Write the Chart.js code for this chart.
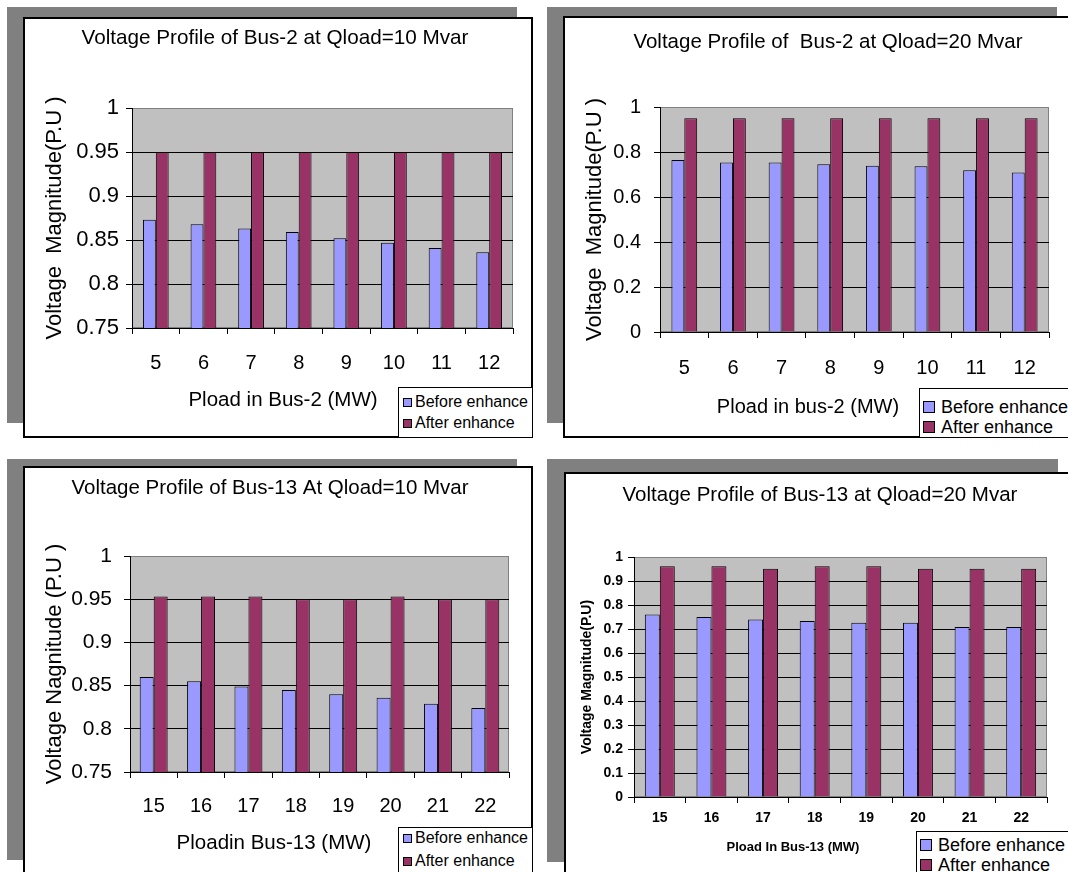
<!DOCTYPE html>
<html>
<head>
<meta charset="utf-8">
<script src="https://cdn.jsdelivr.net/npm/chart.js@4.4.1/dist/chart.umd.min.js"></script>
<style>
  body { margin: 0; background: #fff; width: 1068px; height: 872px; overflow: hidden; position: relative; font-family: "Liberation Sans", Arial, sans-serif; }
  .shadow { position: absolute; background: #808080; }
  .box { position: absolute; background: #fff; border: 2px solid #000; box-sizing: border-box; }
  canvas { position: absolute; }
  .legend { position: absolute; background: #fff; border: 1px solid #000; box-sizing: border-box; color: #000; white-space: nowrap; }
  .legend .row { position: absolute; display: flex; align-items: center; }
  .legend .sw { display: inline-block; border: 1px solid #000; box-sizing: border-box; }
</style>
</head>
<body>
<script>
const loadsBus2 = ['5', '6', '7', '8', '9', '10', '11', '12'];
const loadsBus13 = ['15', '16', '17', '18', '19', '20', '21', '22'];
const seriesNames = ['Before enhance', 'After enhance'];
const seriesColors = ['#9999FF', '#993366'];

const bus2Q10Before = [0.873, 0.868, 0.863, 0.859, 0.852, 0.847, 0.841, 0.836];
const bus2Q10After = [0.95, 0.95, 0.95, 0.95, 0.95, 0.95, 0.95, 0.95];
const bus2Q20Before = [0.764, 0.753, 0.753, 0.746, 0.739, 0.737, 0.719, 0.709];
const bus2Q20After = [0.95, 0.95, 0.95, 0.95, 0.95, 0.95, 0.95, 0.95];
const bus13Q10Before = [0.860, 0.855, 0.849, 0.845, 0.840, 0.836, 0.829, 0.824];
const bus13Q10After = [0.953, 0.953, 0.953, 0.95, 0.95, 0.953, 0.95, 0.95];
const bus13Q20Before = [0.760, 0.750, 0.740, 0.733, 0.726, 0.726, 0.708, 0.708];
const bus13Q20After = [0.961, 0.961, 0.951, 0.961, 0.961, 0.951, 0.951, 0.951];

Chart.defaults.font.family = '"Liberation Sans", Arial, sans-serif';
Chart.defaults.color = '#000';

// grey plot area like the old Excel charts
const plotBg = {
  id: 'plotBg',
  beforeDraw(chart) {
    const { ctx, chartArea: a } = chart;
    ctx.save();
    ctx.fillStyle = '#C0C0C0';
    ctx.fillRect(a.left, a.top, a.right - a.left, a.bottom - a.top);
    ctx.strokeStyle = '#808080';
    ctx.lineWidth = 1;
    ctx.strokeRect(a.left + 0.5, a.top + 0.5, a.right - a.left - 1, a.bottom - a.top - 1);
    ctx.restore();
  }
};

// x axis caption, sits left of the legend box
const axisCaption = {
  id: 'axisCaption',
  afterDraw(chart, args, opts) {
    const ctx = chart.ctx;
    ctx.save();
    ctx.font = opts.font;
    ctx.fillStyle = '#000';
    ctx.textAlign = 'center';
    ctx.textBaseline = 'middle';
    ctx.fillText(opts.text, opts.x, opts.y);
    ctx.restore();
  }
};

function addDiv(cls, x, y, w, h) {
  const d = document.createElement('div');
  d.className = cls;
  Object.assign(d.style, { left: x + 'px', top: y + 'px', width: w + 'px', height: h + 'px' });
  document.body.appendChild(d);
  return d;
}

function makePanel(p) {
  const [bx, by, bw, bh] = p.box;
  addDiv('shadow', p.shadow[0], p.shadow[1], p.shadow[2], p.shadow[3]);
  addDiv('box', bx, by, bw, bh);

  const cv = document.createElement('canvas');
  cv.width = bw; cv.height = bh;
  Object.assign(cv.style, { left: bx + 'px', top: by + 'px', width: bw + 'px', height: bh + 'px' });
  document.body.appendChild(cv);

  // plot area in canvas coords, title centred between the paddings
  const left = p.plot[0] - bx, right = p.plot[1] - bx, top = p.plot[2] - by, bottom = p.plot[3] - by;
  const tc = p.titleX - bx;
  const padL = tc > bw / 2 ? 2 * tc - bw : 0;
  const padR = tc < bw / 2 ? bw - 2 * tc : 0;
  const titleY = p.titleY - by;
  const tFont = p.titleSize;

  const chart = new Chart(cv, {
    type: 'bar',
    data: {
      labels: p.labels,
      datasets: p.series.map((d, i) => ({
        label: seriesNames[i],
        data: d,
        backgroundColor: seriesColors[i],
        borderColor: '#000',
        borderWidth: 1,
        categoryPercentage: p.cat,
        barPercentage: 1
      }))
    },
    options: {
      responsive: false,
      animation: false,
      layout: { padding: { left: padL, top: 0, bottom: 0, right: padR } },
      plugins: {
        legend: { display: false },
        tooltip: { enabled: false },
        title: {
          display: true, text: p.title, color: '#000',
          font: { size: tFont, weight: 'normal', lineHeight: 1.2 },
          padding: { top: titleY - tFont * 0.6, bottom: top - titleY - tFont * 0.6 }
        },
        axisCaption: { text: p.xTitle, x: p.xTitlePos[0] - bx, y: p.xTitlePos[1] - by, font: p.xTitleFont }
      },
      scales: {
        x: {
          grid: { drawOnChartArea: false, color: '#000', tickLength: 6 },
          border: { color: '#000' },
          ticks: { color: '#000', font: p.xTickFont, padding: p.xPad, maxRotation: 0, autoSkip: false },
          afterFit: s => { s.height = bh - bottom; }
        },
        y: {
          min: p.yMin, max: p.yMax,
          ticks: { stepSize: p.step, color: '#000', font: p.yTickFont, padding: p.yPad, callback: v => String(+v.toFixed(2)) },
          grid: {
            color: c => (c.tick && c.tick.value > p.yMax - 1e-6) ? 'rgba(0,0,0,0)' : '#000',
            tickColor: '#000', tickLength: 6
          },
          border: { color: '#000' },
          title: { display: true, text: p.yTitle, color: '#000', font: p.yTitleFont, padding: { top: p.yTitleX - bx - padL - p.yTitleFont.size * 0.6, bottom: 0 } },
          afterFit: s => { s.width = left - padL; }
        },
        // empty right axis only keeps the plot area off the right edge
        yRight: {
          position: 'right', display: true,
          grid: { display: false }, border: { display: false }, ticks: { display: false },
          afterFit: s => { s.width = bw - padR - right; }
        }
      }
    },
    plugins: [plotBg, axisCaption]
  });

  // boxed legend in the bottom right corner
  const lg = p.legend;
  const el = addDiv('legend', lg.x, lg.y, lg.w, lg.h);
  chart.data.datasets.forEach((ds, i) => {
    const row = document.createElement('div');
    row.className = 'row';
    const lh = lg.size + 4;
    Object.assign(row.style, { left: (lg.swX - lg.x - 1) + 'px', top: (lg.rows[i] - lg.y - 1 - lh / 2) + 'px', height: lh + 'px', font: lg.size + 'px ' + lg.family });
    const sw = document.createElement('span');
    sw.className = 'sw';
    Object.assign(sw.style, { width: lg.sw + 'px', height: lg.sw + 'px', background: ds.backgroundColor, marginRight: lg.gap + 'px' });
    const tx = document.createElement('span');
    tx.textContent = ds.label;
    row.appendChild(sw);
    row.appendChild(tx);
    el.appendChild(row);
  });
}

const plain = '"Liberation Sans", Arial, sans-serif';

makePanel({
  shadow: [7, 7, 510, 416], box: [23, 17, 510, 421], plot: [132, 513, 108, 328],
  labels: loadsBus2, series: [bus2Q10Before, bus2Q10After], cat: 0.54,
  title: 'Voltage Profile of Bus-2 at Qload=10 Mvar', titleX: 275, titleY: 38, titleSize: 20.7,
  yTitle: 'Voltage  Magnitude(P.U )', yTitleFont: { size: 22 }, yTitleX: 55,
  xTitle: 'Pload in Bus-2 (MW)', xTitlePos: [283, 400], xTitleFont: '20.5px ' + plain,
  yMin: 0.75, yMax: 1, step: 0.05, xTickFont: { size: 20 }, yTickFont: { size: 22 }, xPad: 17, yPad: 7,
  legend: { x: 398, y: 387, w: 135, h: 51, swX: 403, rows: [402, 423], sw: 9, gap: 3, size: 16, family: plain }
});

makePanel({
  shadow: [547, 7, 510, 416], box: [563, 16, 510, 422], plot: [660, 1049, 107, 332],
  labels: loadsBus2, series: [bus2Q20Before, bus2Q20After], cat: 0.53,
  title: 'Voltage Profile of  Bus-2 at Qload=20 Mvar', titleX: 828, titleY: 42, titleSize: 20.5,
  yTitle: 'Voltage  Magnitude(P.U )', yTitleFont: { size: 22 }, yTitleX: 595,
  xTitle: 'Pload in bus-2 (MW)', xTitlePos: [808, 407], xTitleFont: '20px ' + plain,
  yMin: 0, yMax: 1, step: 0.2, xTickFont: { size: 20 }, yTickFont: { size: 20 }, xPad: 18, yPad: 13,
  legend: { x: 919, y: 388, w: 160, h: 50, swX: 923, rows: [407, 427], sw: 12, gap: 6, size: 18, family: plain }
});

makePanel({
  shadow: [7, 459, 510, 401], box: [23, 466, 510, 421], plot: [130, 509, 556, 772],
  labels: loadsBus13, series: [bus13Q10Before, bus13Q10After], cat: 0.59,
  title: 'Voltage Profile of Bus-13 At Qload=10 Mvar', titleX: 270, titleY: 488, titleSize: 20.5,
  yTitle: 'Voltage Nagnitude (P.U )', yTitleFont: { size: 22 }, yTitleX: 55,
  xTitle: 'Ploadin Bus-13 (MW)', xTitlePos: [274, 843], xTitleFont: '20.5px ' + plain,
  yMin: 0.75, yMax: 1, step: 0.05, xTickFont: { size: 20 }, yTickFont: { size: 21 }, xPad: 16, yPad: 12,
  legend: { x: 398, y: 827, w: 135, h: 60, swX: 403, rows: [838, 861], sw: 9, gap: 3, size: 16, family: plain }
});

makePanel({
  shadow: [547, 459, 511, 403], box: [564, 472, 510, 421], plot: [634, 1047, 557, 797],
  labels: loadsBus13, series: [bus13Q20Before, bus13Q20After], cat: 0.58,
  title: 'Voltage Profile of Bus-13 at Qload=20 Mvar', titleX: 820, titleY: 495, titleSize: 20.5,
  yTitle: 'Voltage Magnitude(P.U)', yTitleFont: { size: 14, weight: 'bold' }, yTitleX: 587,
  xTitle: 'Pload In Bus-13 (MW)', xTitlePos: [793, 847], xTitleFont: 'bold 13px ' + plain,
  yMin: 0, yMax: 1, step: 0.1, xTickFont: { size: 14, weight: 'bold' }, yTickFont: { size: 14, weight: 'bold' }, xPad: 7, yPad: 5,
  legend: { x: 916, y: 831, w: 160, h: 60, swX: 920, rows: [845, 865], sw: 12, gap: 6, size: 18, family: plain }
});
</script>
</body>
</html>
